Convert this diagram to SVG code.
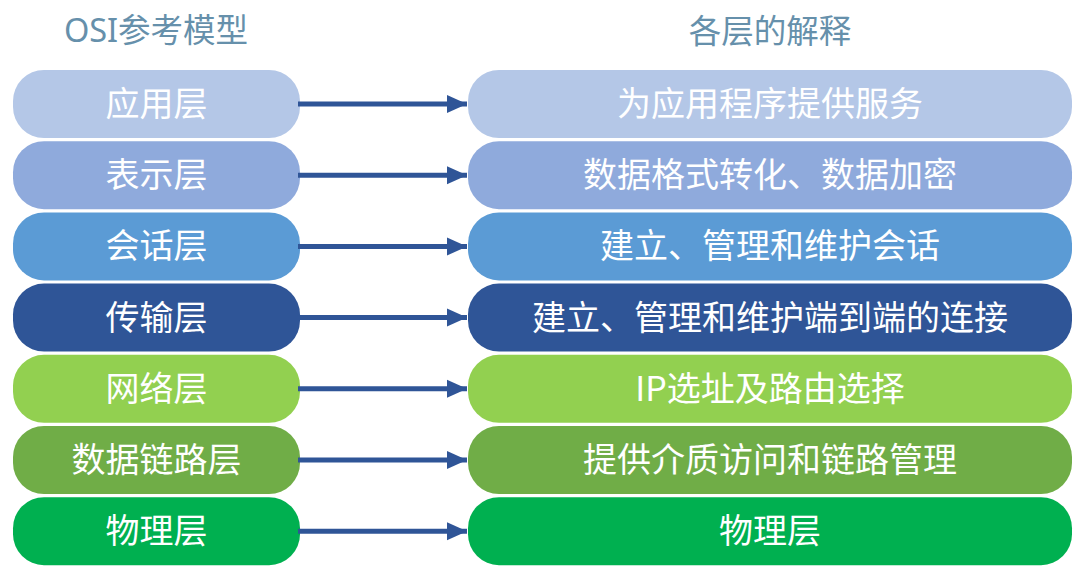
<svg xmlns="http://www.w3.org/2000/svg" width="1080" height="570" viewBox="0 0 1080 570">
<defs>
<style>
.hdr{font-family:"Noto Sans","Noto Sans CJK SC",sans-serif;font-size:32.5px;fill:#6690ab;text-anchor:middle}
.lbl{font-family:"Noto Sans CJK SC","Noto Sans",sans-serif;font-size:34px;fill:#ffffff;text-anchor:middle}
.arrow{stroke:#2f5597;stroke-width:5;fill:none;marker-end:url(#ah)}
</style>
<marker id="ah" markerUnits="userSpaceOnUse" markerWidth="22" markerHeight="20" refX="20" refY="10" orient="auto">
<polygon points="0,1 20,10 0,19" fill="#2f5597"/>
</marker>
</defs>
<rect width="1080" height="570" fill="#ffffff"/>
<text class="hdr" x="156" y="42">OSI参考模型</text>
<text class="hdr" x="770" y="43">各层的解释</text>

<g id="l1"><rect x="13" y="70" width="287" height="68" rx="31" fill="#b4c7e7"/><text class="lbl" x="156.5" y="116">应用层</text></g>
<g id="l2"><rect x="13" y="141.2" width="287" height="68" rx="31" fill="#8faadc"/><text class="lbl" x="156.5" y="187">表示层</text></g>
<g id="l3"><rect x="13" y="212.4" width="287" height="68" rx="31" fill="#5b9bd5"/><text class="lbl" x="156.5" y="258">会话层</text></g>
<g id="l4"><rect x="13" y="283.6" width="287" height="68" rx="31" fill="#2f5597"/><text class="lbl" x="156.5" y="330">传输层</text></g>
<g id="l5"><rect x="13" y="354.8" width="287" height="68" rx="31" fill="#92d050"/><text class="lbl" x="156.5" y="401">网络层</text></g>
<g id="l6"><rect x="13" y="426" width="287" height="68" rx="31" fill="#70ad47"/><text class="lbl" x="156.5" y="472">数据链路层</text></g>
<g id="l7"><rect x="13" y="497.2" width="287" height="68" rx="31" fill="#00b050"/><text class="lbl" x="156.5" y="543">物理层</text></g>

<g id="r1"><rect x="468" y="70" width="604" height="68" rx="31" fill="#b4c7e7"/><text class="lbl" x="770" y="116">为应用程序提供服务</text></g>
<g id="r2"><rect x="468" y="141.2" width="604" height="68" rx="31" fill="#8faadc"/><text class="lbl" x="770" y="187">数据格式转化、数据加密</text></g>
<g id="r3"><rect x="468" y="212.4" width="604" height="68" rx="31" fill="#5b9bd5"/><text class="lbl" x="770" y="258">建立、管理和维护会话</text></g>
<g id="r4"><rect x="468" y="283.6" width="604" height="68" rx="31" fill="#2f5597"/><text class="lbl" x="770" y="330">建立、管理和维护端到端的连接</text></g>
<g id="r5"><rect x="468" y="354.8" width="604" height="68" rx="31" fill="#92d050"/><text class="lbl" x="770" y="401">IP选址及路由选择</text></g>
<g id="r6"><rect x="468" y="426" width="604" height="68" rx="31" fill="#70ad47"/><text class="lbl" x="770" y="472">提供介质访问和链路管理</text></g>
<g id="r7"><rect x="468" y="497.2" width="604" height="68" rx="31" fill="#00b050"/><text class="lbl" x="770" y="543">物理层</text></g>

<g id="connectors">
<line class="arrow" x1="298" y1="104" x2="467" y2="104"/>
<line class="arrow" x1="298" y1="175.2" x2="467" y2="175.2"/>
<line class="arrow" x1="298" y1="246.4" x2="467" y2="246.4"/>
<line class="arrow" x1="298" y1="317.6" x2="467" y2="317.6"/>
<line class="arrow" x1="298" y1="388.8" x2="467" y2="388.8"/>
<line class="arrow" x1="298" y1="460" x2="467" y2="460"/>
<line class="arrow" x1="298" y1="531.2" x2="467" y2="531.2"/>
</g>
</svg>
